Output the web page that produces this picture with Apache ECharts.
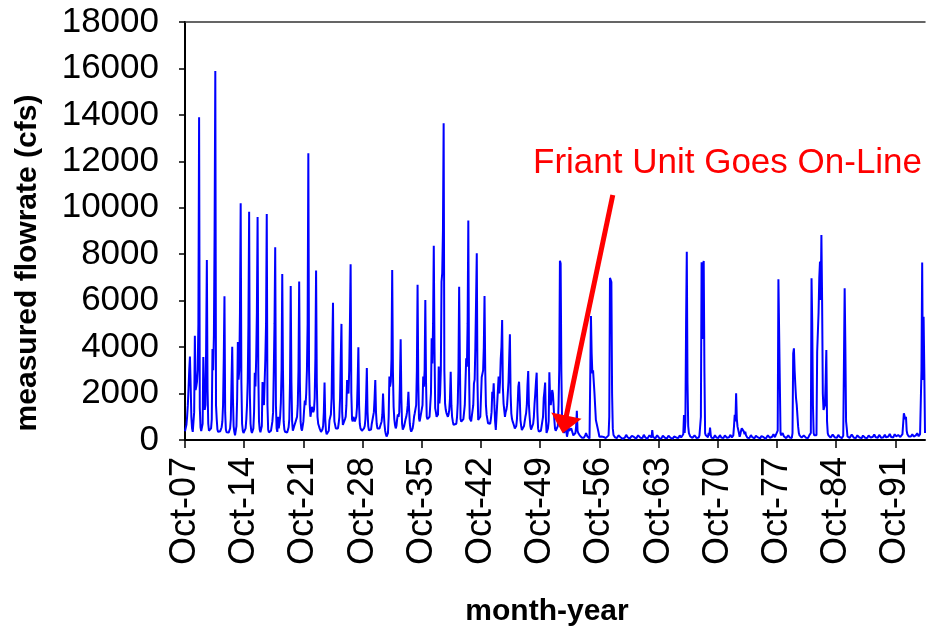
<!DOCTYPE html>
<html>
<head>
<meta charset="utf-8">
<title>measured flowrate</title>
<script src="https://cdn.jsdelivr.net/npm/echarts@6.0.0/dist/echarts.min.js"></script>
<style>
  html, body { margin: 0; padding: 0; background: #fff; }
  #chart { width: 927px; height: 637px; }
</style>
</head>
<body>
<div id="chart"></div>
<script>
// monthly flow (cfs), one row per water year starting in October
var flowByYear = [
  [380,420,650,1000,1500,2200,3000,3590,2400,1000,500,350],        // 1907-08
  [400,1200,4490,2150,2300,2500,3000,5000,13900,1400,550,380],
  [400,700,3570,2000,1300,1500,4000,7750,2200,700,400,330],
  [400,500,900,3920,3000,4500,9000,15890,1500,900,450,350],
  [350,330,380,450,550,800,1500,3500,6190,1200,450,330],
  [300,280,320,400,500,900,2500,4020,1800,600,350,200],
  [250,600,1800,4220,2600,3000,5500,10190,2500,700,400,300],
  [300,350,500,900,1500,2500,5000,9830,2000,700,400,300],
  [350,500,1200,2900,2300,3500,5500,9600,3000,800,450,330],
  [400,600,2500,1800,1500,2500,3500,5000,9730,1500,450,330],
  [350,330,400,600,800,1200,3000,5000,8300,1500,500,350],         // 1917-18
  [1000,500,700,1000,1600,3000,7150,3000,800,450,350,300],
  [300,320,400,550,900,2500,6630,2500,800,400,500,600],
  [700,800,900,1000,1500,3000,6830,2500,800,500,400,430],
  [800,1300,1700,1500,2000,3000,5000,12350,3000,1500,1000,1200],
  [1430,1300,1200,1300,1800,3500,7300,2500,1000,700,600,500],
  [430,350,400,450,600,1200,2470,900,400,250,215,250],
  [400,850,900,1100,1800,4000,5910,1800,800,650,500,430],
  [450,500,700,1000,1800,3500,5000,1200,650,600,700,900],
  [1000,1500,2580,2300,2000,3000,5000,7570,2000,900,800,1000],
  [900,800,900,1000,1400,2500,3990,1500,700,500,420,400],          // 1927-28
  [380,450,500,600,900,1800,3100,1200,600,420,400,420],
  [450,700,860,900,1200,1800,2580,1200,700,500,430,450],
  [500,600,700,800,1100,2000,1200,700,400,250,150,180],
  [300,1000,2730,2300,2500,3500,7320,3000,1430,900,640,500],
  [600,900,1100,1000,1200,2500,4340,1800,700,450,430,600],
  [600,900,1000,1200,1500,2080,1300,700,450,360,400,500],
  [700,1000,1150,1200,1500,3000,6680,2500,930,800,750,800],
  [800,1500,2730,2300,3000,6030,2500,1000,900,930,900,1000],
  [1000,2000,4380,3300,5000,8360,4000,1370,1200,1000,1000,1100],
  [3160,1580,2000,3000,6820,7190,9000,13640,3000,1580,1300,1160],   // 1937-38
  [1100,1000,1100,1300,1800,2940,1500,1000,800,650,600,650],
  [650,700,1000,1580,3000,6600,3500,900,790,750,800,900],
  [900,1500,2500,3520,3160,5000,9450,3000,930,850,800,850],
  [850,1500,2440,2600,4000,6000,8040,2500,860,800,900,1000],
  [1000,2700,2700,3000,4000,6200,3000,1500,1080,900,720,650],
  [650,700,900,1200,2080,1800,2440,1500,800,430,360,400],
  [400,2730,2000,2500,3500,4000,5170,2300,1580,1290,1000,1200],
  [1300,1500,2000,2500,3500,4550,2000,1150,900,790,700,600],
  [500,430,600,900,1500,2300,2510,1800,860,600,430,500],
  [500,600,800,1000,1150,1500,2400,2970,1500,1000,600,450],        // 1947-48
  [430,500,700,1000,1580,2000,2500,2900,1200,500,360,300],
  [300,400,600,800,1000,1800,2100,2470,1000,300,290,500],
  [800,2920,1870,1500,1800,2150,2000,1500,900,500,400,360],
  [360,600,1500,3000,7720,7600,3000,860,575,400,300,250],
  [650,400,140,300,575,400,320,430,500,575,300,200],
  [250,200,300,600,1260,400,300,250,200,150,120,100],
  [150,120,100,130,200,300,250,150,100,80,70,90],
  [5340,3730,2870,3000,2990,2020,1430,860,720,690,720,300],
  [140,120,100,150,200,180,130,100,90,80,100,150],
  [150,200,1000,6980,6950,6800,2000,500,215,150,120,100],          // 1957-58
  [90,80,120,200,250,180,120,80,60,50,60,80],
  [100,150,220,180,120,90,70,60,70,100,180,250],
  [200,130,90,70,60,80,120,200,230,150,100,70],
  [60,80,150,220,180,120,80,60,50,70,120,200],
  [230,150,100,430,150,90,70,60,80,130,200,180],
  [120,80,60,50,70,100,180,220,160,100,70,60],
  [70,110,190,230,150,90,60,50,60,90,150,210],
  [180,110,70,60,80,130,200,180,110,80,150,250],
  [1080,300,800,5000,8110,2500,600,300,215,150,120,100],
  [90,80,120,200,180,120,80,60,70,110,200,150],                    // 1967-68
  [1000,7650,4350,7500,7710,3000,290,200,150,150,120,300],
  [200,530,200,100,80,70,90,150,200,170,110,80],
  [70,90,150,210,180,110,70,60,80,130,200,190],
  [130,90,70,80,120,180,220,160,110,90,200,600],
  [1080,800,2010,900,575,650,300,140,250,400,500,450],
  [430,360,250,360,200,140,100,80,70,90,150,210],
  [180,120,80,60,70,110,180,230,170,110,80,60],
  [70,100,170,220,190,120,80,60,50,70,130,200],
  [220,150,90,70,80,140,210,250,180,120,150,200],
  [200,400,6920,6850,2500,290,200,250,300,250,150,100],             // 1977-78
  [90,80,100,150,200,160,110,80,70,90,300,3730],
  [3950,3000,2370,1800,1510,1430,575,300,200,150,120,100],
  [90,120,200,230,160,100,70,60,80,140,210,180],
  [300,6960,5000,1500,290,200,150,150,200,3800,3730,5500],
  [7000,7680,6030,8830,6030,2000,1290,1220,1500,2500,3880,800],
  [290,200,150,120,100,120,180,230,200,150,110,90],
  [80,100,160,220,190,130,90,70,80,120,180,200],
  [6530,4000,800,500,150,120,100,90,110,170,230,200],
  [150,100,80,70,90,140,200,230,170,110,80,70],
  [80,120,190,220,160,100,70,60,80,130,200,210],                   // 1987-88
  [150,100,80,90,140,210,240,180,120,90,80,100],
  [160,220,200,140,90,70,80,120,190,230,170,110],
  [90,100,150,220,260,200,130,90,80,110,180,250],
  [230,160,120,150,210,250,190,130,110,150,250,290],
  [1150,1100,900,1000,400,250,200,150,120,100,150,200],
  [250,200,150,120,140,200,260,290,220,160,200,250],
  [250,3000,7640,2580,5310,3000,300]                               // 1994-95
];

var tickLabels = ['Oct-07','Oct-14','Oct-21','Oct-28','Oct-35','Oct-42','Oct-49',
                  'Oct-56','Oct-63','Oct-70','Oct-77','Oct-84','Oct-91'];
var monthsPerTick = 84;
var yTicks = [0,2000,4000,6000,8000,10000,12000,14000,16000,18000];

// annotation arrow, in [month index, cfs]
var arrowFrom = [607, 10550];
var arrowTip = [535.9, 289];

var flow = [].concat.apply([], flowByYear);
var lastMonth = flow.length - 1;
var tickValues = tickLabels.map(function (t, i) { return i * monthsPerTick; });

var font = '"Liberation Sans", Arial, sans-serif';
var chart = echarts.init(document.getElementById('chart'), null, { renderer: 'canvas' });

chart.setOption({
    animation: false,
    backgroundColor: '#fff',
    grid: { left: 185, top: 22, width: 740, height: 418 },
    xAxis: [{
        type: 'value',
        min: 0,
        max: lastMonth,
        interval: monthsPerTick,
        axisLine: { lineStyle: { color: '#000', width: 2 } },
        axisTick: { show: true, length: 8, customValues: tickValues, lineStyle: { color: '#000', width: 1.5 } },
        axisLabel: {
            rotate: 90,
            margin: 17,
            customValues: tickValues,
            fontFamily: font,
            fontSize: 36,
            color: '#000',
            formatter: function (v) { return tickLabels[Math.round(v / monthsPerTick)] || ''; }
        },
        splitLine: { show: false }
    }, {
        type: 'value',
        position: 'top',
        min: 0,
        max: lastMonth,
        axisLine: { show: true, onZero: false, lineStyle: { color: '#333', width: 1.5 } },
        axisTick: { show: false },
        axisLabel: { show: false },
        splitLine: { show: false }
    }],
    yAxis: {
        type: 'value',
        min: yTicks[0],
        max: yTicks[yTicks.length - 1],
        interval: yTicks[1] - yTicks[0],
        axisLine: { show: true, lineStyle: { color: '#000', width: 2 } },
        axisTick: { show: true, length: 6, lineStyle: { color: '#000', width: 1.5 } },
        axisLabel: {
            margin: 26, fontFamily: font, fontSize: 35, color: '#000',
            formatter: function (v) { return String(v); }
        },
        splitLine: { show: false }
    },
    series: [{
        type: 'line',
        data: flow.map(function (v, i) { return [i, v]; }),
        showSymbol: false,
        symbol: 'none',
        lineStyle: { color: '#0000ff', width: 2 }
    }]
});

// red arrow: shaft plus a wide triangular head, placed from data coordinates
var p0 = chart.convertToPixel({ gridIndex: 0 }, arrowFrom);
var p1 = chart.convertToPixel({ gridIndex: 0 }, arrowTip);
var dx = p1[0] - p0[0], dy = p1[1] - p0[1];
var len = Math.sqrt(dx * dx + dy * dy);
var ux = dx / len, uy = dy / len;
var headLen = 18, headHalf = 15.5;
var bx = p1[0] - ux * headLen, by = p1[1] - uy * headLen;

chart.setOption({
    graphic: [{
        id: 'note',
        type: 'text',
        x: 533,
        y: 163,
        style: {
            text: 'Friant Unit Goes On-Line',
            fill: '#ff0000',
            font: '35px ' + font,
            verticalAlign: 'middle'
        }
    }, {
        id: 'ytitle',
        type: 'text',
        x: 28,
        y: 263,
        rotation: Math.PI / 2,
        style: {
            text: 'measured flowrate (cfs)',
            fill: '#000',
            font: 'bold 30px ' + font,
            align: 'center',
            verticalAlign: 'middle'
        }
    }, {
        id: 'xtitle',
        type: 'text',
        x: 547,
        y: 612,
        style: {
            text: 'month-year',
            fill: '#000',
            font: 'bold 30px ' + font,
            align: 'center',
            verticalAlign: 'middle'
        }
    }, {
        id: 'shaft',
        type: 'line',
        shape: { x1: p0[0], y1: p0[1], x2: bx + ux * 2, y2: by + uy * 2 },
        style: { stroke: '#ff0000', lineWidth: 5 },
        z: 100
    }, {
        id: 'head',
        type: 'polygon',
        shape: { points: [[p1[0], p1[1]], [bx - uy * headHalf, by + ux * headHalf], [bx + uy * headHalf, by - ux * headHalf]] },
        style: { fill: '#ff0000' },
        z: 100
    }]
});
</script>
</body>
</html>
